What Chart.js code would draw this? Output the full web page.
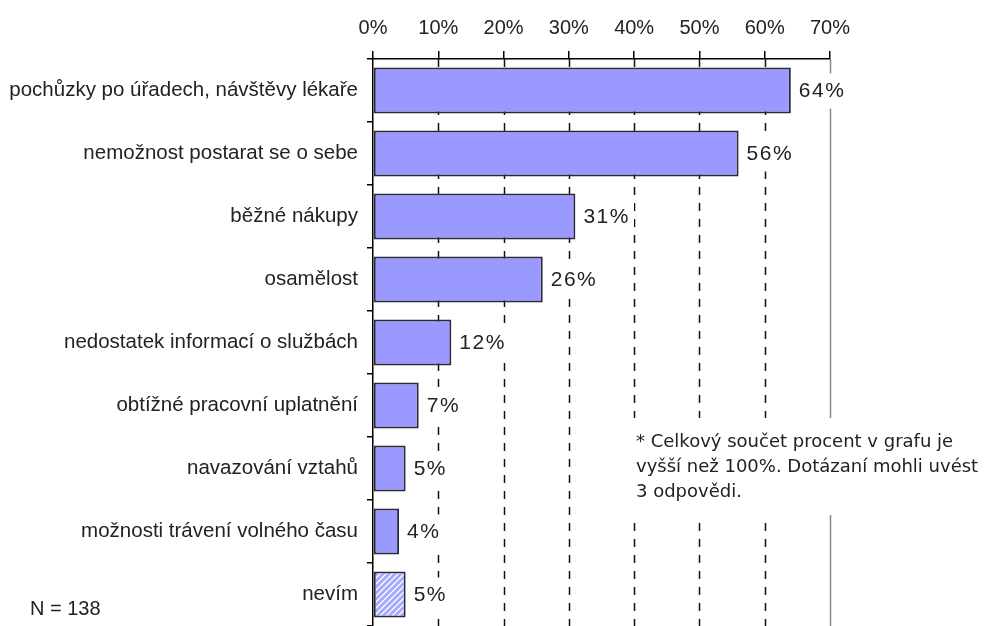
<!DOCTYPE html>
<html>
<head>
<meta charset="utf-8">
<script src="https://cdn.jsdelivr.net/npm/chart.js@4/dist/chart.umd.min.js"></script>
<style>
  html, body { margin: 0; padding: 0; background: #fff; }
  #wrap { width: 1007px; height: 626px; position: relative; }
</style>
</head>
<body>
<div id="wrap"><canvas id="graf"></canvas></div>
<script>
const kategorie = [
    'pochůzky po úřadech, návštěvy lékaře',
    'nemožnost postarat se o sebe',
    'běžné nákupy',
    'osamělost',
    'nedostatek informací o službách',
    'obtížné pracovní uplatnění',
    'navazování vztahů',
    'možnosti trávení volného času',
    'nevím'
];
const hodnoty = [64, 56, 31, 26, 12, 7, 5, 4, 5];
const osaTicks = [0, 10, 20, 30, 40, 50, 60, 70];
const poznamka = [
    '* Celkový součet procent v grafu je',
    'vyšší než 100%. Dotázaní mohli uvést',
    '3 odpovědi.'
];
const pocet = 'N = 138';

const font = '"Liberation Sans", Arial, sans-serif';

const sraffura = () => {
    const c = document.createElement('canvas');
    c.width = 6;
    c.height = 6;
    const g = c.getContext('2d');
    g.fillStyle = '#a4a8ff';
    g.fillRect(0, 0, 6, 6);
    g.strokeStyle = '#ffffff';
    g.lineWidth = 1.3;
    g.beginPath();
    g.moveTo(-1, 7); g.lineTo(7, -1);
    g.moveTo(-1, 1); g.lineTo(1, -1);
    g.moveTo(5, 7); g.lineTo(7, 5);
    g.stroke();
    return g.createPattern(c, 'repeat');
};

const ctx = document.getElementById('graf').getContext('2d');
const barvy = hodnoty.map((v, i) => i === hodnoty.length - 1 ? sraffura() : '#9999ff');

const mrizka = {
    id: 'mrizka',
    beforeDatasetsDraw(chart) {
        const { ctx, chartArea, scales } = chart;
        ctx.save();
        osaTicks.forEach(v => {
            if (v === 0) return;
            const x = Math.round(scales.x.getPixelForValue(v)) + 0.5;
            ctx.beginPath();
            if (v === osaTicks[osaTicks.length - 1]) {
                ctx.setLineDash([]);
                ctx.strokeStyle = '#888';
                ctx.lineWidth = 1.5;
            } else {
                ctx.setLineDash([8, 8]);
                ctx.strokeStyle = '#111';
                ctx.lineWidth = 1.5;
            }
            ctx.moveTo(x, chartArea.top);
            ctx.lineTo(x, chartArea.bottom);
            ctx.stroke();
        });
        ctx.restore();
    },
    afterDatasetsDraw(chart) {
        const { ctx } = chart;
        const meta = chart.getDatasetMeta(0);
        ctx.save();
        ctx.font = '21px ' + font;
        ctx.letterSpacing = '1.5px';
        ctx.textBaseline = 'middle';
        ctx.textAlign = 'left';
        meta.data.forEach((bar, i) => {
            const txt = hodnoty[i] + '%';
            const w = ctx.measureText(txt).width;
            ctx.fillStyle = '#fff';
            ctx.fillRect(bar.x + 4, bar.y - 17, w + 8, 35);
            ctx.fillStyle = '#222';
            ctx.fillText(txt, bar.x + 8, bar.y + 1);
        });
        ctx.restore();
    },
    afterDraw(chart) {
        const { ctx } = chart;
        ctx.save();
        ctx.fillStyle = '#fff';
        ctx.fillRect(622, 418, 385, 97);
        ctx.fillStyle = '#222';
        ctx.font = '18px "DejaVu Sans", Verdana, sans-serif';
        ctx.textBaseline = 'middle';
        poznamka.forEach((r, i) => ctx.fillText(r, 636, 442 + i * 25));
        ctx.font = '20px ' + font;
        ctx.fillText(pocet, 30, 609);
        ctx.restore();
    }
};

new Chart(ctx, {
    type: 'bar',
    data: {
        labels: kategorie,
        datasets: [{
            data: hodnoty,
            backgroundColor: barvy,
            borderColor: '#2a2a3a',
            borderWidth: 2,
            borderSkipped: false,
            barPercentage: 0.73,
            categoryPercentage: 1
        }]
    },
    plugins: [mrizka],
    options: {
        indexAxis: 'y',
        responsive: true,
        maintainAspectRatio: false,
        animation: false,
        layout: { padding: { left: 0, right: 177, top: 0, bottom: 0 } },
        plugins: {
            legend: { display: false },
            tooltip: { enabled: false }
        },
        scales: {
            x: {
                position: 'top',
                min: 0,
                max: 70,
                afterFit: s => { s.height = 59; },
                afterBuildTicks: s => { s.ticks = osaTicks.map(v => ({ value: v })); },
                ticks: {
                    callback: v => v + '%',
                    color: '#222',
                    font: { family: font, size: 20 },
                    padding: 11
                },
                grid: {
                    drawOnChartArea: false,
                    tickLength: 8,
                    color: '#000',
                    lineWidth: 1.5
                },
                border: { display: true, color: '#000', width: 1.5 }
            },
            y: {
                afterFit: s => {
                    s.width = 373;
                    s.paddingTop = 0;
                    s.paddingBottom = 0;
                },
                ticks: {
                    color: '#222',
                    font: { family: font, size: 20.5 },
                    padding: 9
                },
                grid: {
                    offset: true,
                    drawOnChartArea: false,
                    tickLength: 6,
                    color: '#000',
                    lineWidth: 1.5
                },
                border: { display: true, color: '#000', width: 1.5 }
            }
        }
    }
});
</script>
</body>
</html>
